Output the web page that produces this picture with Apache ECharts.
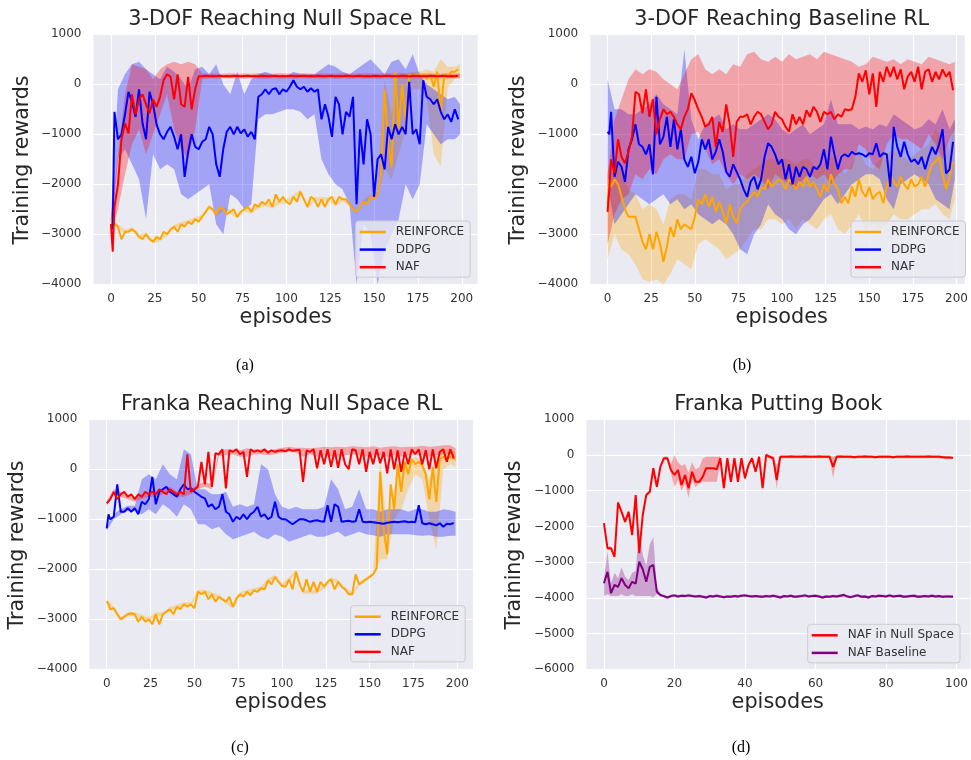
<!DOCTYPE html>
<html><head><meta charset="utf-8">
<script src="https://cdn.jsdelivr.net/npm/echarts@6/dist/echarts.min.js"></script>
<style>html,body{margin:0;padding:0;background:#fff}#c{width:971px;height:760px}</style>
</head><body><div id="c"></div>
<script>
// ---------- episode grids & tick labels ----------
function steps(a, b, s) { const r = []; for (let v = a; v <= b; v += s) r.push(v); return r; }
const M_EP = [0, 1].concat(steps(2, 198, 2));          // mean-curve episodes (panels a-c)
const BAND_EP = steps(0, 196, 4).concat([199]);         // band episodes (panels a-c)
const D_EP = steps(0, 99, 1);                           // panel d episodes
const X_TICKS_200 = [0, 25, 50, 75, 100, 125, 150, 175, 200];
const X_TICKS_100 = [0, 20, 40, 60, 80, 100];

// ---------- (a) 3-DOF Reaching Null Space RL ----------
const A_REINFORCE = [
-2700,-2750,-2750,-2850,-3100,-2950,-2950,-2900,-2950,-3050,
-3100,-3000,-3100,-3150,-3050,-3100,-2950,-3000,-2900,-2850,
-2950,-2800,-2850,-2750,-2800,-2700,-2750,-2650,-2550,-2450,
-2500,-2600,-2450,-2500,-2600,-2550,-2500,-2650,-2550,-2500,
-2450,-2550,-2400,-2450,-2350,-2400,-2300,-2450,-2200,-2350,
-2250,-2350,-2400,-2250,-2350,-2150,-2300,-2450,-2250,-2300,
-2450,-2300,-2450,-2300,-2250,-2400,-2250,-2300,-2300,-2400,
-2500,-2550,-2450,-2350,-2400,-2250,-2300,-2200,-1800,-100,
-1200,-1650,250,-900,0,-700,200,150,200,150,
200,100,200,-50,250,-550,200,150,250,250,
300];
const A_DDPG = [
-2800,-2900,-550,-1100,-1000,-600,-150,-350,-650,-100,
-780,-1100,-150,-400,-800,-1000,-1100,-950,-850,-1050,
-1300,-1000,-1850,-1350,-1000,-1250,-1300,-1150,-1100,-850,
-1000,-1600,-1850,-1300,-950,-850,-1000,-850,-980,-900,
-1050,-950,-1100,-250,-200,-100,-200,-100,-80,-200,
-100,-150,-50,80,-50,-100,-50,-150,-80,-150,
-100,-700,-400,-650,-1050,-250,-400,-1000,-550,-650,
-250,-2400,-900,-1600,-700,-1000,-2250,-1500,-1400,-1700,
-850,-1100,-800,-1000,-850,-1000,50,-1000,-900,-1200,
80,-250,-300,-400,-300,-550,-700,-600,-750,-500,
-700];
const A_NAF = [
-2800,-3350,-2450,-2000,-1100,-780,-980,-200,-600,-300,
-200,-400,-580,-300,-450,-250,80,200,150,-300,
200,-400,-450,150,-500,-100,160,160,170,160,
165,160,170,160,165,160,170,165,160,165,
170,160,165,160,170,165,160,165,170,160,
165,160,170,165,160,165,170,160,165,160,
170,165,160,165,170,160,165,160,170,165,
160,165,170,160,165,160,170,165,160,165,
170,160,165,160,170,165,160,165,170,160,
165,160,170,165,160,165,170,160,165,160,
170];
const A_REINFORCE_LO = [
-2740,-2890,-2990,-2940,-3090,-3040,-3190,-3140,-3040,-2890,
-2840,-2790,-2740,-2690,-2490,-2640,-2540,-2590,-2690,-2540,
-2590,-2490,-2440,-2490,-2390,-2390,-2290,-2190,-2490,-2340,
-2340,-2340,-2440,-2340,-2440,-2590,-2390,-2290,-2260,-1700,
-1900,-1400,-900,-100,-100,-300,-1400,-1650,-50,100,
150];
const A_REINFORCE_HI = [
-2660,-2810,-2910,-2860,-3010,-2960,-3110,-3060,-2960,-2810,
-2760,-2710,-2660,-2610,-2410,-2560,-2460,-2510,-2610,-2460,
-2510,-2410,-2360,-2410,-2310,-2310,-2210,-2110,-2410,-2260,
-2260,-2260,-2360,-2260,-2360,-2510,-2310,-2210,-2140,100,
-600,250,200,250,250,300,250,500,350,350,
400];
const A_DDPG_LO = [
-3000,-1500,-1300,-1600,-1900,-2700,-1400,-1700,-1600,-1700,
-2200,-2300,-2200,-2100,-2000,-2800,-3000,-2200,-2300,-2500,
-2400,-700,-600,-600,-550,-500,-500,-550,-700,-600,
-1500,-1800,-2000,-2100,-2400,-4000,-2800,-3000,-4000,-3300,
-3000,-2700,-2000,-2300,-2000,-800,-1000,-1200,-1100,-1100,
-1000];
const A_DDPG_HI = [
-2600,-100,200,400,450,300,200,100,350,250,
100,-100,300,350,200,400,0,-200,250,-200,
100,200,250,200,150,150,250,200,200,200,
300,400,350,250,200,300,400,500,350,200,
450,500,300,600,200,0,-100,-200,-300,-250,
-400];
const A_NAF_LO = [
-3000,-2500,-1800,-1200,-900,-1400,-1000,-600,-200,-900,
-1300,-1500,-900,100,120,110,120,115,120,110,
120,115,110,120,115,120,110,120,115,120,
110,120,115,120,110,120,115,120,110,120,
115,120,110,120,115,120,110,120,115,120,
115];
const A_NAF_HI = [
-2600,-1400,-200,400,350,300,100,300,400,450,
400,450,400,220,210,215,210,220,210,215,
210,220,215,210,220,215,210,220,215,210,
220,215,210,220,215,210,220,215,210,220,
215,210,220,215,210,220,215,210,220,215,
210];

// ---------- (b) 3-DOF Reaching Baseline RL ----------
const B_REINFORCE = [
-2400,-1900,-2050,-1900,-2000,-2250,-2500,-2650,-2650,-2650,
-2900,-3150,-3300,-3000,-3300,-2950,-3180,-3550,-3250,-2850,
-3050,-2700,-2900,-2800,-2850,-2900,-2650,-2300,-2400,-2200,
-2450,-2250,-2550,-2350,-2550,-2780,-2400,-2650,-2780,-2500,
-2400,-2350,-2250,-2150,-2250,-2050,-2100,-1900,-2050,-1980,
-1900,-1950,-2100,-1900,-2000,-2100,-1950,-2050,-1850,-2050,
-1950,-2100,-2250,-2000,-2150,-1800,-2000,-2100,-2380,-2250,
-2380,-2050,-2250,-1900,-2150,-2250,-2050,-2300,-2200,-2150,
-2380,-2050,-1800,-1950,-2050,-1850,-2000,-2100,-1900,-2050,
-2000,-1850,-2050,-1800,-1600,-1550,-1450,-1800,-2100,-1850,
-1550];
const B_DDPG = [
-950,-1000,-550,-1850,-1550,-1650,-1950,-1300,-1100,-800,
-1200,-1250,-1400,-1200,-1800,-250,-1200,-1050,-650,-1250,
-700,-1300,-900,-1500,-1650,-1450,-1780,-1550,-1100,-1300,
-1100,-1500,-1350,-1100,-1350,-1750,-1850,-1600,-1750,-1900,
-2100,-2250,-1950,-1850,-2100,-1900,-1450,-1180,-1250,-1400,
-1600,-1500,-1900,-1600,-2000,-1650,-1850,-1650,-1700,-1850,
-1650,-1700,-1600,-1300,-1700,-1050,-1400,-1700,-1450,-1400,
-1450,-1350,-1400,-1380,-1400,-1450,-1380,-1400,-1180,-1450,
-1380,-1400,-2050,-850,-1250,-1450,-1150,-1400,-1550,-1500,
-1600,-1450,-1700,-1450,-1250,-1400,-1200,-900,-1780,-1700,
-1150];
const B_NAF = [
-2550,-2100,-1500,-1780,-1100,-1450,-1580,-1350,-1050,-150,
-200,-580,-100,-650,-300,-1000,-700,-500,-600,-550,
-650,-800,-900,-650,-500,-180,-320,-500,-650,-850,
-800,-650,-1250,-750,-950,-400,-800,-1450,-750,-650,
-650,-600,-800,-650,-550,-600,-750,-900,-800,-550,
-650,-700,-850,-950,-600,-800,-650,-800,-520,-650,
-450,-550,-750,-550,-600,-550,-700,-600,-650,-500,
-520,-500,-250,220,50,280,-200,220,-450,250,
50,350,150,350,100,300,-100,150,250,50,
350,-100,250,300,50,250,100,300,150,250,
-120];
const B_REINFORCE_LO = [
-3500,-3000,-3300,-3400,-3600,-3900,-3950,-3900,-4000,-3800,
-3500,-3600,-3700,-3200,-3100,-3200,-3300,-3500,-3400,-3300,
-3100,-2900,-2900,-2700,-2700,-2800,-2700,-2900,-2700,-2800,
-2900,-2700,-2600,-2900,-3000,-2800,-2600,-2900,-2800,-2900,
-2800,-2600,-2700,-2700,-2600,-2500,-2500,-2400,-2600,-2700,
-2300];
const B_REINFORCE_HI = [
-1700,-1500,-1700,-2100,-2200,-2500,-2400,-2500,-2800,-2300,
-2200,-2200,-2300,-1700,-1700,-1800,-1800,-2100,-2000,-2000,
-1800,-1700,-1600,-1500,-1500,-1500,-1500,-1600,-1500,-1500,
-1700,-1600,-1400,-1600,-1800,-1600,-1300,-1600,-1700,-1500,
-1400,-1300,-1400,-1500,-1400,-1300,-1200,-900,-1100,-1300,
-700];
const B_DDPG_LO = [
-2000,-2800,-2600,-2400,-2200,-2300,-2400,-2300,-2200,-2400,
-2300,-2500,-2400,-2600,-2700,-2800,-2700,-2800,-3000,-3300,
-3400,-3000,-2800,-2400,-2600,-2700,-2900,-3000,-2800,-2700,
-2500,-2300,-2200,-2400,-2200,-2000,-1900,-1800,-1800,-1900,
-2300,-2500,-2000,-1900,-1800,-1900,-2000,-2300,-2400,-2500,
-1900];
const B_DDPG_HI = [
100,-500,-500,-600,-600,-500,-400,-200,-400,-500,
-600,700,-700,-1100,-800,-700,-600,-900,-800,-900,
-900,-800,-700,-600,-700,-900,-1000,-900,-800,-1000,
-900,-800,-300,-800,-800,-800,-900,-850,-900,-800,
-850,-600,-700,-800,-900,-850,-700,-800,-500,-900,
-700];
const B_NAF_LO = [
-3200,-2600,-2300,-2200,-1800,-1900,-1700,-1800,-1500,-1400,
-1500,-1500,-1000,-950,-1300,-1600,-1500,-1800,-2000,-1800,
-1900,-1800,-1900,-2100,-1800,-1900,-2000,-2100,-1900,-1800,
-1900,-1800,-2000,-1800,-1700,-1700,-1200,-1300,-1600,-1700,
-1200,-1000,-1100,-1100,-1200,-1300,-1000,-1200,-1500,-1100,
-900];
const B_NAF_HI = [
-1800,-700,-300,100,300,200,300,250,100,0,
-100,200,500,600,300,200,300,200,400,350,
600,650,500,450,550,450,600,500,550,600,
500,650,600,550,500,450,350,400,550,500,
450,500,400,500,450,400,550,500,450,400,
450];

// ---------- (c) Franka Reaching Null Space RL ----------
const C_REINFORCE = [
-2640,-2700,-2800,-2780,-2900,-3000,-2950,-2900,-2880,-2900,
-3050,-2950,-3050,-3000,-3100,-2900,-3100,-2900,-2850,-2800,
-2900,-2750,-2800,-2700,-2750,-2700,-2780,-2450,-2500,-2450,
-2600,-2500,-2650,-2550,-2600,-2650,-2550,-2750,-2580,-2500,
-2550,-2450,-2520,-2420,-2450,-2380,-2400,-2220,-2300,-2150,
-2250,-2330,-2350,-2200,-2400,-2050,-2300,-2450,-2200,-2450,
-2250,-2450,-2250,-2350,-2250,-2200,-2400,-2250,-2350,-2400,
-2500,-2500,-2100,-2300,-2250,-2200,-2150,-2100,-1980,-50,
-1200,-1700,-300,-800,100,-450,150,-100,200,100,
150,80,-100,-600,50,-650,200,250,200,250,
200];
const C_DDPG = [
-1180,-900,-1000,-950,-300,-850,-850,-780,-850,-780,
-900,-650,-700,-600,-150,-700,-450,-400,-350,-450,
-500,-550,-400,-300,-400,-380,-450,-500,-550,-580,
-750,-700,-800,-750,-500,-850,-900,-1050,-950,-1000,
-900,-1000,-900,-850,-750,-950,-900,-1000,-950,-650,
-950,-1000,-1000,-1050,-1100,-1050,-1000,-1000,-1020,-1050,
-1030,-1020,-1040,-1050,-720,-1050,-700,-750,-1050,-1040,
-1030,-1050,-1040,-800,-1050,-1060,-1050,-1060,-1070,-1080,
-1090,-1070,-1060,-1050,-1060,-1050,-1040,-1060,-1050,-1060,
-720,-1080,-1100,-1080,-1100,-1120,-1080,-1150,-1090,-1100,
-1070];
const C_NAF = [
-680,-650,-600,-450,-600,-500,-450,-550,-500,-600,
-500,-550,-450,-500,-450,-500,-400,-450,-500,-400,
-450,-500,-450,-500,300,-450,-400,-350,150,-300,
350,-350,320,300,400,-380,380,350,400,300,
350,-150,400,350,380,350,400,330,380,350,
370,380,360,400,370,380,390,-250,380,350,
400,20,380,100,400,50,380,30,400,100,
0,400,380,100,400,-50,350,100,400,120,
350,-80,400,0,380,-50,350,100,400,300,
400,100,380,0,400,20,350,400,150,400,
220];
const C_REINFORCE_LO = [
-2680,-2820,-3040,-2940,-2940,-2990,-3040,-2940,-2940,-2840,
-2790,-2740,-2740,-2490,-2490,-2540,-2590,-2690,-2790,-2540,
-2490,-2460,-2420,-2260,-2190,-2370,-2240,-2090,-2490,-2490,
-2490,-2390,-2240,-2290,-2440,-2540,-2340,-2240,-2140,-1800,
-1800,-1000,-800,-400,-100,-200,-1000,-1600,0,100,
50];
const C_REINFORCE_HI = [
-2600,-2740,-2960,-2860,-2860,-2910,-2960,-2860,-2860,-2760,
-2710,-2660,-2660,-2410,-2410,-2460,-2510,-2610,-2710,-2460,
-2410,-2380,-2340,-2180,-2110,-2290,-2160,-2010,-2410,-2410,
-2410,-2310,-2160,-2210,-2360,-2460,-2260,-2160,-2060,200,
-1200,-400,100,200,250,200,-200,300,400,400,
350];
const C_DDPG_LO = [
-1230,-1000,-900,-830,-830,-900,-800,-900,-700,-800,
-950,-700,-800,-1100,-1100,-1200,-1150,-1300,-1400,-1350,
-1300,-1250,-1350,-1400,-1300,-1350,-1450,-1400,-1350,-1300,
-1350,-1350,-1300,-1250,-1350,-1300,-1250,-1300,-1320,-1350,
-1300,-1300,-1300,-1300,-1320,-1330,-1320,-1350,-1350,-1330,
-1330];
const C_DDPG_HI = [
-1130,-900,-800,-730,-730,-200,-100,-200,100,-100,
-200,400,300,-400,-400,-500,-500,-450,-750,-700,
-750,-700,100,0,-500,-750,-800,-750,-800,-800,
-800,-750,-200,-400,-800,-750,-400,-800,-800,-850,
-800,-800,-800,-850,-800,-800,-850,-850,-800,-820,
-850];
const C_NAF_LO = [
-730,-500,-550,-600,-650,-600,-550,-550,-500,-450,
-550,-550,-500,-400,-350,-400,270,280,300,250,
250,300,300,280,300,330,350,330,250,300,
250,280,250,250,280,300,280,250,280,280,
250,280,250,280,300,280,250,280,300,300,
150];
const C_NAF_HI = [
-630,-400,-450,-500,-550,-500,-450,-450,-400,-350,
-450,-450,-400,-300,-250,-300,370,400,400,380,
420,400,400,380,400,430,450,430,430,420,
430,450,440,450,440,460,450,440,460,430,
450,460,440,450,450,470,450,460,480,480,
420];

// ---------- (d) Franka Putting Book ----------
const D_NULL = [
-1910,-2610,-2610,-2850,-1330,-1590,-1870,-1590,-2240,-1120,
-2750,-1680,-1120,-1030,-370,-890,-330,-90,-90,-420,
-560,-420,-840,-560,-930,-470,-750,-750,-610,-370,
-370,-370,-400,-90,-930,-90,-750,-90,-750,-90,
-650,-280,-90,-470,-50,-930,0,-50,-90,-700,
-50,-50,-50,-40,-50,-50,-50,-40,-50,-50,
-50,-40,-50,-50,-50,-330,-50,-40,-50,-50,
-50,-60,-50,-50,-40,-50,-50,-60,-50,-50,
-50,-50,-60,-50,-50,-50,-40,-50,-50,-50,
-50,-50,-40,-50,-50,-50,-60,-70,-70,-80];
const D_NULL_LO = [
-1960,-2660,-2660,-2900,-1380,-1640,-1920,-1640,-2290,-1170,
-2800,-1730,-1170,-1080,-420,-940,-380,-140,-140,-520,
-900,-700,-1000,-800,-1200,-700,-900,-800,-750,-750,
-750,-750,-750,-200,-1000,-150,-800,-150,-800,-150,
-700,-330,-140,-520,-100,-980,-50,-100,-140,-950,
-100,-90,-90,-90,-90,-90,-90,-90,-90,-90,
-90,-90,-90,-90,-100,-650,-100,-90,-90,-90,
-90,-100,-90,-90,-90,-90,-90,-100,-90,-90,
-90,-90,-100,-90,-90,-90,-90,-90,-90,-90,
-90,-90,-90,-90,-90,-90,-100,-110,-110,-120];
const D_NULL_HI = [
-1860,-2560,-2560,-2800,-1280,-1540,-1820,-1540,-2190,-1070,
-2700,-1630,-1070,-980,-320,-840,-280,-40,-40,-250,
0,-200,-300,-250,-500,-200,-400,-350,-100,-50,
-50,-50,-50,-40,-850,-40,-700,-40,-700,-40,
-600,-230,-40,-420,0,-880,50,0,-40,-300,
0,-10,-10,0,-10,-10,-10,0,-10,-10,
-10,0,-10,-10,-10,-50,-10,0,-10,-10,
-10,-20,-10,-10,0,-10,-10,-20,-10,-10,
-10,-10,-20,-10,-10,-10,0,-10,-10,-10,
-10,-10,0,-10,-10,-10,-20,-30,-30,-40];
const D_BASE = [
-3590,-3270,-3870,-3640,-3690,-3450,-3640,-3730,-3550,-3600,
-2990,-3200,-3550,-3130,-3080,-3830,-3920,-3950,-3990,-3950,
-3930,-3960,-3940,-3950,-3930,-3950,-3960,-3950,-3970,-3990,
-3950,-3960,-3940,-3960,-3980,-3960,-3970,-3950,-3960,-3940,
-3930,-3950,-3960,-3950,-3960,-3970,-3950,-3960,-3940,-3960,
-3990,-3950,-3960,-3940,-3970,-3960,-3950,-3930,-3960,-3950,
-3940,-3960,-3990,-3960,-3970,-3950,-3960,-3940,-3920,-3960,
-3980,-3950,-3930,-3970,-3960,-3990,-3950,-3960,-3940,-3950,
-3960,-3930,-3960,-3950,-3940,-3970,-3960,-3950,-3940,-3970,
-3960,-3950,-3960,-3940,-3960,-3950,-3970,-3960,-3960,-3970];
const D_BASE_LO = [
-3950,-3900,-3950,-3950,-3950,-3900,-3950,-3950,-3900,-3950,
-3950,-3950,-3950,-3950,-3980,-3900,-3960,-3990,-4030,-3990,
-3970,-4000,-3980,-3990,-3970,-3990,-4000,-3990,-4010,-4030,
-3990,-4000,-3980,-4000,-4020,-4000,-4010,-3990,-4000,-3980,
-3970,-3990,-4000,-3990,-4000,-4010,-3990,-4000,-3980,-4000,
-4030,-3990,-4000,-3980,-4010,-4000,-3990,-3970,-4000,-3990,
-3980,-4000,-4030,-4000,-4010,-3990,-4000,-3980,-3960,-4000,
-4020,-3990,-3970,-4010,-4000,-4030,-3990,-4000,-3980,-3990,
-4000,-3970,-4000,-3990,-3980,-4010,-4000,-3990,-3980,-4010,
-4000,-3990,-4000,-3980,-4000,-3990,-4010,-4000,-4000,-4010];
const D_BASE_HI = [
-3450,-2700,-3600,-3300,-3450,-3150,-3400,-3500,-3300,-3250,
-2050,-2800,-3100,-2500,-2300,-3700,-3880,-3910,-3950,-3910,
-3890,-3920,-3900,-3910,-3890,-3910,-3920,-3910,-3930,-3950,
-3910,-3920,-3900,-3920,-3940,-3920,-3930,-3910,-3920,-3900,
-3890,-3910,-3920,-3910,-3920,-3930,-3910,-3920,-3900,-3920,
-3950,-3910,-3920,-3900,-3930,-3920,-3910,-3890,-3920,-3910,
-3900,-3920,-3950,-3920,-3930,-3910,-3920,-3900,-3880,-3920,
-3940,-3910,-3890,-3930,-3920,-3950,-3910,-3920,-3900,-3910,
-3920,-3890,-3920,-3910,-3900,-3930,-3920,-3910,-3900,-3930,
-3920,-3910,-3920,-3900,-3920,-3910,-3930,-3920,-3920,-3930];

// ---------- styling ----------
const LINE_COLOR = { 'REINFORCE': '#FFA500', 'DDPG': '#0000FF', 'NAF': '#FF0000', 'NAF in Null Space': '#FF0000', 'NAF Baseline': '#800080' };
const BAND_COLOR = { 'REINFORCE': 'rgba(255,165,0,0.3)', 'DDPG': 'rgba(0,0,255,0.3)', 'NAF': 'rgba(255,0,0,0.3)', 'NAF in Null Space': 'rgba(255,0,0,0.3)', 'NAF Baseline': 'rgba(128,0,128,0.3)' };
const FONT = 'DejaVu Sans';

const PANELS = [
  { grid: { left: 93.5, top: 34.3, width: 384, height: 250 }, xMin: -9.95, xMax: 208.95, xTicks: X_TICKS_200, yMin: -4000, yMax: 1000,
    title: '3-DOF Reaching Null Space RL', titlePos: [286.7, 20], yLabPos: [23, 160], xLabPos: [285.7, 318], caption: '(a)', capPos: [245, 366],
    legendPos: [355.7, 221],
    series: [['REINFORCE', M_EP, A_REINFORCE, BAND_EP, A_REINFORCE_LO, A_REINFORCE_HI],
             ['DDPG', M_EP, A_DDPG, BAND_EP, A_DDPG_LO, A_DDPG_HI],
             ['NAF', M_EP, A_NAF, BAND_EP, A_NAF_LO, A_NAF_HI]] },
  { grid: { left: 590.2, top: 34.3, width: 376.8, height: 250 }, xMin: -9.95, xMax: 204.7, xTicks: X_TICKS_200, yMin: -4000, yMax: 1000,
    title: '3-DOF Reaching Baseline RL', titlePos: [781.7, 20], yLabPos: [518.3, 160], xLabPos: [781.7, 318], caption: '(b)', capPos: [742, 366],
    legendPos: [851, 221],
    series: [['REINFORCE', M_EP, B_REINFORCE, BAND_EP, B_REINFORCE_LO, B_REINFORCE_HI],
             ['DDPG', M_EP, B_DDPG, BAND_EP, B_DDPG_LO, B_DDPG_HI],
             ['NAF', M_EP, B_NAF, BAND_EP, B_NAF_LO, B_NAF_HI]] },
  { grid: { left: 89.3, top: 419.3, width: 383.7, height: 250 }, xMin: -9.95, xMax: 208.95, xTicks: X_TICKS_200, yMin: -4000, yMax: 1000,
    title: 'Franka Reaching Null Space RL', titlePos: [281.7, 405], yLabPos: [17.3, 545], xLabPos: [280.8, 703], caption: '(c)', capPos: [240, 748],
    legendPos: [350.7, 605.7],
    series: [['REINFORCE', M_EP, C_REINFORCE, BAND_EP, C_REINFORCE_LO, C_REINFORCE_HI],
             ['DDPG', M_EP, C_DDPG, BAND_EP, C_DDPG_LO, C_DDPG_HI],
             ['NAF', M_EP, C_NAF, BAND_EP, C_NAF_LO, C_NAF_HI]] },
  { grid: { left: 586.5, top: 419.3, width: 384, height: 250 }, xMin: -4.95, xMax: 103.95, xTicks: X_TICKS_100, yMin: -6000, yMax: 1000,
    title: 'Franka Putting Book', titlePos: [778.3, 405], yLabPos: [515, 545], xLabPos: [777.7, 703], caption: '(d)', capPos: [741, 748],
    legendPos: [807.7, 624.3],
    series: [['NAF in Null Space', D_EP, D_NULL, D_EP, D_NULL_LO, D_NULL_HI],
             ['NAF Baseline', D_EP, D_BASE, D_EP, D_BASE_LO, D_BASE_HI]] }
];

function minusFmt(v) { return v < 0 ? '\u2212' + Math.abs(v) : String(v); }

const option = { animation: false, backgroundColor: '#ffffff', grid: [], xAxis: [], yAxis: [], series: [], legend: [], graphic: [] };

PANELS.forEach((p, gi) => {
  option.grid.push(Object.assign({ show: true, backgroundColor: '#EAEAF2', borderWidth: 0, containLabel: false }, p.grid));
  option.xAxis.push({
    type: 'value', gridIndex: gi, min: p.xMin, max: p.xMax,
    axisLine: { show: false }, axisTick: { show: false, customValues: p.xTicks },
    axisLabel: { customValues: p.xTicks, color: '#333', fontSize: 12, fontFamily: FONT, margin: 9 },
    splitLine: { show: true, lineStyle: { color: '#ffffff', width: 1.1 } }
  });
  option.yAxis.push({
    type: 'value', gridIndex: gi, min: p.yMin, max: p.yMax, interval: 1000,
    axisLine: { show: false }, axisTick: { show: false },
    axisLabel: { color: '#333', fontSize: 12, fontFamily: FONT, margin: 12, formatter: minusFmt, showMinLabel: true, showMaxLabel: true },
    splitLine: { show: true, lineStyle: { color: '#ffffff', width: 1.1 } }
  });
  p.series.forEach(([name, xs, ys, bxs, lo, hi]) => {
    option.series.push({
      type: 'custom', name: name + ' band', xAxisIndex: gi, yAxisIndex: gi, silent: true,
      data: [[bxs[0], lo[0]]],
      renderItem: (params, api) => {
        const pts = [];
        for (let i = 0; i < bxs.length; i++) pts.push(api.coord([bxs[i], hi[i]]));
        for (let i = bxs.length - 1; i >= 0; i--) pts.push(api.coord([bxs[i], lo[i]]));
        return { type: 'polygon', shape: { points: pts }, style: { fill: BAND_COLOR[name], stroke: 'none' } };
      }
    });
    option.series.push({
      type: 'line', name: name, xAxisIndex: gi, yAxisIndex: gi,
      data: ys.map((y, i) => [xs[i], y]),
      showSymbol: false, symbol: 'none', color: LINE_COLOR[name],
      itemStyle: { color: LINE_COLOR[name] },
      lineStyle: { color: LINE_COLOR[name], width: 2 }
    });
  });
  option.legend.push({
    show: true, orient: 'vertical', left: p.legendPos[0], top: p.legendPos[1],
    data: p.series.map(s => s[0]), icon: 'rect', itemWidth: 26, itemHeight: 2.5, itemGap: 3.6,
    padding: [4, 6, 3, 4], backgroundColor: 'rgba(234,234,242,0.8)', borderColor: '#cccccc', borderWidth: 1, borderRadius: 3,
    selectedMode: false,
    textStyle: { fontSize: 12, color: '#333', fontFamily: FONT, lineHeight: 14, padding: [0, 0, 0, 5] }
  });
  const txt = (x, y, text, size, font, color, rot) => ({
    type: 'text', x: x, y: y, rotation: rot || 0, silent: true,
    style: { text: text, fill: color, font: size + 'px "' + font + '"', textAlign: 'center', textVerticalAlign: 'middle', align: 'center', verticalAlign: 'middle' }
  });
  option.graphic.push(txt(p.titlePos[0], p.titlePos[1], p.title, 20.8, FONT, '#262626'));
  option.graphic.push(txt(p.yLabPos[0], p.yLabPos[1], 'Training rewards', 20.5, FONT, '#262626', Math.PI / 2));
  option.graphic.push(txt(p.xLabPos[0], p.xLabPos[1], 'episodes', 20.8, FONT, '#262626'));
  option.graphic.push(txt(p.capPos[0], p.capPos[1], p.caption, 16, 'Liberation Serif', '#000000'));
});

const chart = echarts.init(document.getElementById('c'), null, { renderer: 'canvas', width: 971, height: 760 });
chart.setOption(option);
</script>
</body></html>
